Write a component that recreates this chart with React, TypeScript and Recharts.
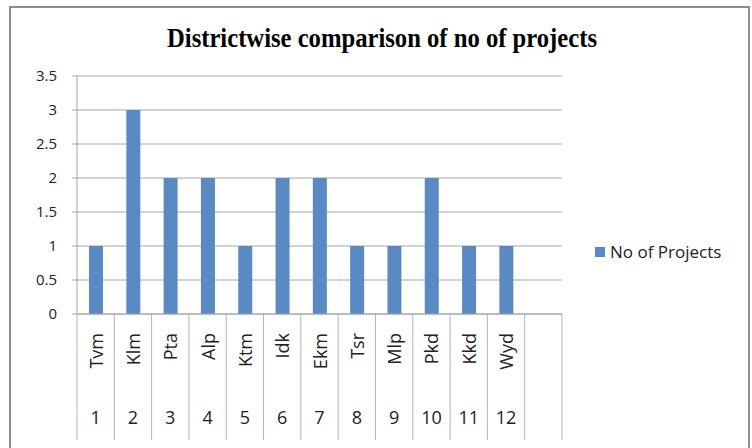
import React from "react";
import { BarChart, Bar, XAxis, YAxis, CartesianGrid, Legend } from "recharts";

const districts = ["Tvm", "Klm", "Pta", "Alp", "Ktm", "Idk", "Ekm", "Tsr", "Mlp", "Pkd", "Kkd", "Wyd", ""];
const serialNumbers = ["1", "2", "3", "4", "5", "6", "7", "8", "9", "10", "11", "12", ""];
const projectCounts: (number | null)[] = [1, 3, 2, 2, 1, 2, 2, 1, 1, 2, 1, 1, null];
const yTicks = [0, 0.5, 1, 1.5, 2, 2.5, 3, 3.5];
const seriesName = "No of Projects";
const chartTitle = "Districtwise comparison of no of projects";

const data = districts.map((name, i) => ({
  name,
  num: serialNumbers[i],
  value: projectCounts[i],
}));

const W = 752;
const H = 448;
const LEGEND_H = 20;
const MARGIN = { top: 76, right: 190, left: 0, bottom: 0 };
const Y_AXIS_W = 77;
const X_AXIS_H = 134 - LEGEND_H;
const BAR_COLOR = "#5A89C4";
const GRID = "#A6A6A6";
const SEP = "#B5B5B5";
const FONT = "'Open Sans', sans-serif";

const CategoryTick = (props: any) => {
  const { x, y, payload, index, visibleTicksCount, width } = props;
  let half = payload && typeof payload.offset === "number" && payload.offset > 0 ? payload.offset : 0;
  if (!half) {
    const count = visibleTicksCount || data.length;
    const w = typeof width === "number" && width > 0 ? width : W - MARGIN.right - Y_AXIS_W;
    half = w / count / 2;
  }
  const row = data[index] || { name: payload?.value, num: "" };
  const isLast = index === (visibleTicksCount || data.length) - 1;
  return (
    <g>
      <line x1={x - half} x2={x - half} y1={y} y2={y + 126} stroke={SEP} strokeWidth={1} />
      {isLast && <line x1={x + half} x2={x + half} y1={y} y2={y + 126} stroke={SEP} strokeWidth={1} />}
      <text
        x={0}
        y={0}
        transform={`translate(${x},${y + 19}) rotate(-90)`}
        textAnchor="end"
        dominantBaseline="central"
        fontFamily={FONT}
        fontSize={18}
        fill="#222"
      >
        {row.name}
      </text>
      <text
        x={x}
        y={y + 103}
        textAnchor="middle"
        dominantBaseline="central"
        fontFamily={FONT}
        fontSize={18}
        fill="#222"
      >
        {row.num}
      </text>
    </g>
  );
};

const LegendContent = (props: any) => {
  const item = props.payload && props.payload[0];
  const color = item?.color || BAR_COLOR;
  const label = item?.value || seriesName;
  return (
    <div style={{ display: "flex", alignItems: "center", fontFamily: FONT, fontSize: 17, color: "#222", height: LEGEND_H }}>
      <span style={{ display: "inline-block", width: 10, height: 10, background: color, marginRight: 5 }} />
      <span style={{ lineHeight: `${LEGEND_H}px` }}>{label}</span>
    </div>
  );
};

export default function App() {
  return (
    <div style={{ position: "absolute", left: 0, top: 0, width: W, height: H, overflow: "hidden", background: "#fff" }}>
      <div
        style={{
          position: "absolute",
          left: 9,
          top: 6,
          width: 741,
          height: 470,
          border: "2px solid #8E8E8E",
          boxSizing: "border-box",
        }}
      />
      <div style={{ position: "absolute", left: 0, top: 0 }}>
        <BarChart width={W} height={H} data={data} margin={MARGIN}>
          <CartesianGrid horizontal={true} vertical={false} stroke={GRID} />
          <XAxis
            dataKey="name"
            interval={0}
            height={X_AXIS_H}
            tickSize={0}
            tickMargin={0}
            tickLine={false}
            axisLine={{ stroke: GRID }}
            tick={<CategoryTick />}
          />
          <YAxis
            width={Y_AXIS_W}
            domain={[0, 3.5]}
            ticks={yTicks}
            interval={0}
            tickSize={5}
            tickMargin={15}
            axisLine={{ stroke: GRID }}
            tickLine={{ stroke: GRID }}
            tick={{ fontFamily: FONT, fontSize: 15, fill: "#222" }}
          />
          <Legend
            content={<LegendContent />}
            wrapperStyle={{ position: "absolute", left: 595, top: 242, width: 150, height: LEGEND_H }}
          />
          <Bar dataKey="value" name={seriesName} fill={BAR_COLOR} barSize={14} isAnimationActive={false} />
        </BarChart>
      </div>
      <svg style={{ position: "absolute", left: 0, top: 0 }} width={W} height={70}>
        <text
          x={382}
          y={47}
          textAnchor="middle"
          fontFamily="'Liberation Serif', 'Times New Roman', serif"
          fontWeight="bold"
          fontSize={27}
          textLength={430}
          lengthAdjust="spacingAndGlyphs"
          fill="#000"
        >
          {chartTitle}
        </text>
      </svg>
    </div>
  );
}
